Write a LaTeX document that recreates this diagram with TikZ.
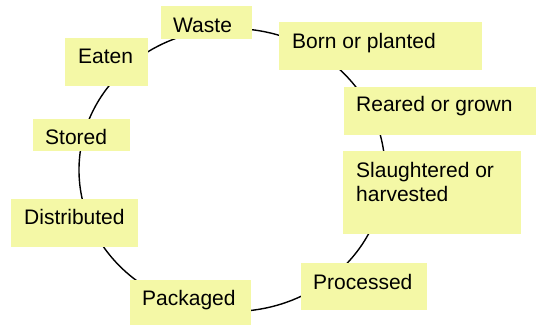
\documentclass[tikz,border=0pt]{standalone}
\usepackage{fontspec}
\setmainfont{Liberation Sans}
\definecolor{boxfill}{HTML}{F4F8A6}
\begin{document}
\begin{tikzpicture}[x=1pt,y=-1pt,
  box/.style={fill=boxfill,draw=none,inner sep=0pt,anchor=north west},
  lbl/.style={anchor=base west,inner sep=0pt,font=\fontsize{21}{24}\selectfont,text=black,align=left}]
\useasboundingbox (0,0) rectangle (536,325);
\coordinate (c) at (232,170);
\draw[line width=1.4pt] (c) ellipse [x radius=153, y radius=141.5];
% boxes
\node[box,minimum width=91,minimum height=33] (waste) at (161,6) {};
\node[box,minimum width=83,minimum height=48] (eaten) at (65,38) {};
\node[box,minimum width=97,minimum height=32] (stored) at (33,119) {};
\node[box,minimum width=203,minimum height=48] (born) at (279,22) {};
\node[box,minimum width=192,minimum height=48] (reared) at (344,87) {};
\node[box,minimum width=178,minimum height=83] (slaught) at (343,151) {};
\node[box,minimum width=126,minimum height=47] (proc) at (301,263) {};
\node[box,minimum width=127,minimum height=48] (distr) at (11,199) {};
\node[box,minimum width=121,minimum height=45] (pack) at (130,280) {};
% labels
\node[lbl] (twaste) at (173,32) {Waste};
\node[lbl] (teaten) at (78,63) {Eaten};
\node[lbl] (tstored) at (45,144) {Stored};
\node[lbl] (tborn) at (292,48) {Born or planted};
\node[lbl] (treared) at (356,111) {Reared or grown};
\node[lbl] (tslaught) at (356,201) {Slaughtered or\\harvested};
\node[lbl] (tproc) at (313,289) {Processed};
\node[lbl] (tdistr) at (24,224) {Distributed};
\node[lbl] (tpack) at (142,305) {Packaged};
\end{tikzpicture}
\end{document}
